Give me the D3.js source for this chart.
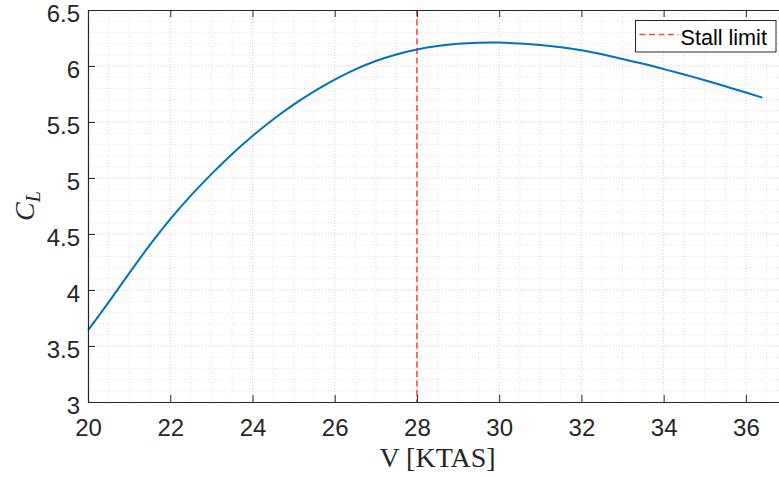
<!DOCTYPE html>
<html>
<head>
<meta charset="utf-8">
<script src="https://cdn.jsdelivr.net/npm/d3@7"></script>
<style>
  body { margin: 0; background: #fff; }
  svg { display: block; }
</style>
</head>
<body>
<div id="chart"></div>
<script>
// speed (KTAS) and lift coefficient
var speed = [20, 20.5, 21, 21.5, 22, 22.5, 23, 23.5, 24, 24.5, 25, 25.5, 26, 26.5, 27, 27.5,
    28, 28.5, 29, 29.5, 30, 30.5, 31, 31.5, 32, 32.5, 33, 33.5, 34, 34.5, 35, 35.5, 36, 36.4];
var liftCoef = [3.640, 3.890, 4.148, 4.400, 4.633, 4.843, 5.035, 5.213, 5.375, 5.523, 5.655,
    5.773, 5.878, 5.970, 6.045, 6.103, 6.147, 6.178, 6.198, 6.208, 6.209, 6.201, 6.188, 6.168,
    6.141, 6.104, 6.063, 6.020, 5.973, 5.924, 5.873, 5.819, 5.763, 5.718];
var stallSpeed = 28;
var xTicks = [20, 22, 24, 26, 28, 30, 32, 34, 36];
var yTicks = [3, 3.5, 4, 4.5, 5, 5.5, 6, 6.5];

var margin = { top: 10, left: 88 },
    width = 699,   // axes run past the window edge, like the cropped figure
    height = 392;

var svg = d3.select("#chart").append("svg")
    .attr("width", 779)
    .attr("height", 477);

var g = svg.append("g")
    .attr("transform", "translate(" + margin.left + "," + margin.top + ")");

var x = d3.scaleLinear().domain([20, 37]).range([0, width]);
var y = d3.scaleLinear().domain([3, 6.5]).range([height, 0]);

// minor grid (dotted)
var xMinor = d3.range(20.5, 37, 0.5);
var yMinor = d3.range(3.1, 6.5, 0.1);

g.append("g").selectAll("line")
    .data(xMinor)
    .enter().append("line")
    .attr("x1", function (d) { return x(d); })
    .attr("x2", function (d) { return x(d); })
    .attr("y1", 0)
    .attr("y2", height)
    .style("stroke", function (d) { return Math.abs(d % 2) < 1e-6 ? "#d2d2d2" : "#e2e2e2"; })
    .style("stroke-dasharray", "1,2")
    .style("stroke-width", 1);

g.append("g").selectAll("line")
    .data(yMinor)
    .enter().append("line")
    .attr("x1", 0)
    .attr("x2", width)
    .attr("y1", function (d) { return y(d); })
    .attr("y2", function (d) { return y(d); })
    .style("stroke", function (d) { return Math.abs(Math.round(d * 2) - d * 2) < 1e-6 ? "#d2d2d2" : "#e2e2e2"; })
    .style("stroke-dasharray", "1,2")
    .style("stroke-width", 1);

// stall limit
g.append("line")
    .attr("x1", x(stallSpeed))
    .attr("x2", x(stallSpeed))
    .attr("y1", 0)
    .attr("y2", height)
    .style("stroke", "#ff4a4a")
    .style("stroke-width", 1.6)
    .style("stroke-dasharray", "6,3.5");

// CL curve
var data = speed.map(function (v, i) { return { v: v, cl: liftCoef[i] }; });
var line = d3.line()
    .x(function (d) { return x(d.v); })
    .y(function (d) { return y(d.cl); })
    .curve(d3.curveNatural);

g.append("path")
    .datum(data)
    .attr("d", line)
    .style("fill", "none")
    .style("stroke", "#0072bd")
    .style("stroke-width", 2);

// axes
var fmt = d3.format("~g");
var axisColor = "#262626";

var xAxis = g.append("g")
    .attr("transform", "translate(0," + height + ")")
    .call(d3.axisBottom(x).tickValues(xTicks).tickFormat(fmt).tickSizeInner(-7).tickSizeOuter(0).tickPadding(17));

var xTop = g.append("g")
    .call(d3.axisTop(x).tickValues(xTicks).tickFormat("").tickSizeInner(-7).tickSizeOuter(0));

var yAxis = g.append("g")
    .call(d3.axisLeft(y).tickValues(yTicks).tickFormat(fmt).tickSizeInner(-7).tickSizeOuter(0).tickPadding(8));

[xAxis, xTop, yAxis].forEach(function (a) {
    a.select(".domain").style("stroke", axisColor).style("stroke-width", 1.2);
    a.selectAll(".tick line").style("stroke", axisColor).style("stroke-width", 1);
    a.selectAll(".tick text")
        .style("fill", axisColor)
        .style("font-family", "'Liberation Sans', Arial, sans-serif")
        .style("font-size", "24px");
});
// matlab draws the y labels a little below their ticks
yAxis.selectAll(".tick text").attr("dy", "0.48em");

// axis labels
svg.append("text")
    .attr("x", margin.left + width / 2)
    .attr("y", 467)
    .attr("text-anchor", "middle")
    .style("font-family", "'Liberation Serif', 'Times New Roman', serif")
    .style("font-size", "28px")
    .style("fill", axisColor)
    .text("V [KTAS]");

var yLab = svg.append("text")
    .attr("transform", "translate(34," + (margin.top + height / 2) + ") rotate(-90)")
    .attr("text-anchor", "middle")
    .style("font-family", "'Liberation Serif', 'Times New Roman', serif")
    .style("font-size", "28px")
    .style("fill", axisColor);
yLab.append("tspan").style("font-style", "italic").text("C");
yLab.append("tspan").attr("dy", 6).style("font-style", "italic").style("font-size", "20px").text("L");

// legend
var legend = svg.append("g").attr("transform", "translate(635.5,20.5)");
legend.append("rect")
    .attr("width", 140.5)
    .attr("height", 31.5)
    .style("fill", "#fff")
    .style("stroke", axisColor)
    .style("stroke-width", 1);
legend.append("line")
    .attr("x1", 4)
    .attr("x2", 43)
    .attr("y1", 14)
    .attr("y2", 14)
    .style("stroke", "#ff4a4a")
    .style("stroke-width", 1.6)
    .style("stroke-dasharray", "6,3.5");
legend.append("text")
    .attr("x", 45)
    .attr("y", 24)
    .style("font-family", "'Liberation Sans', Arial, sans-serif")
    .style("font-size", "21.6px")
    .style("fill", "#000")
    .text("Stall limit");
</script>
</body>
</html>
